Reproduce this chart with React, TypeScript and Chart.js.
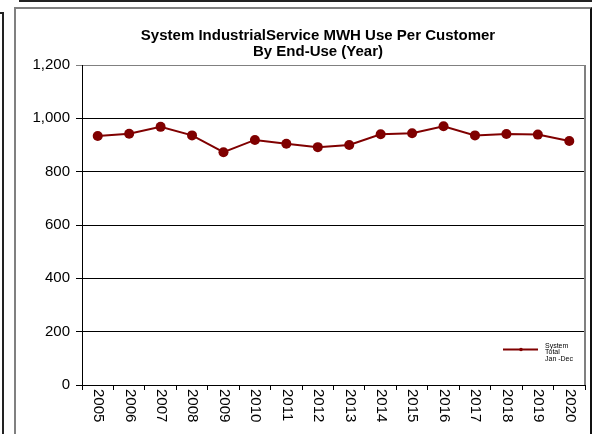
import React, { useEffect, useRef } from 'react';
import { Chart, registerables } from 'chart.js';

Chart.register(...registerables);

const categories = ['2005', '2006', '2007', '2008', '2009', '2010', '2011', '2012', '2013', '2014', '2015', '2016', '2017', '2018', '2019', '2020'];
const systemTotal = [934, 942, 968, 936, 873, 919, 905, 892, 900, 940, 944, 970, 936, 941, 939, 915];
const yTickValues = [0, 200, 400, 600, 800, 1000, 1200];
const titleLines = ['System IndustrialService MWH Use Per Customer', 'By End-Use (Year)'];
const legendLines = ['System', 'Total', 'Jan -Dec'];

const FONT = 'Arial, "Liberation Sans", sans-serif';
const LINE_COLOR = '#800000';

const decorPlugin = {
  id: 'decor',
  afterDraw(chart: any) {
    const ctx = chart.ctx as CanvasRenderingContext2D;
    const area = chart.chartArea;
    const xs = chart.scales.x;
    ctx.save();
    // plot area border (right) in grey
    ctx.strokeStyle = '#808080';
    ctx.lineWidth = 2;
    ctx.beginPath();
    ctx.moveTo(area.right, area.top);
    ctx.lineTo(area.right, area.bottom);
    ctx.stroke();

    // title
    ctx.fillStyle = '#000';
    ctx.font = `bold 15px ${FONT}`;
    ctx.textAlign = 'center';
    ctx.textBaseline = 'middle';
    titleLines.forEach((t, i) => ctx.fillText(t, 318, 35.5 + i * 16.5));

    // x labels rotated clockwise
    ctx.font = `15px ${FONT}`;
    ctx.textAlign = 'left';
    ctx.textBaseline = 'middle';
    categories.forEach((c, i) => {
      const x = xs.getPixelForValue(i);
      ctx.save();
      ctx.translate(x + 0.5, area.bottom + 4);
      ctx.rotate(Math.PI / 2);
      ctx.fillText(c, 0, 0);
      ctx.restore();
    });

    // legend
    const ly = 349.5;
    ctx.strokeStyle = LINE_COLOR;
    ctx.lineWidth = 2;
    ctx.beginPath();
    ctx.moveTo(503, ly);
    ctx.lineTo(538, ly);
    ctx.stroke();
    ctx.fillStyle = LINE_COLOR;
    ctx.beginPath();
    ctx.arc(521, ly, 1.8, 0, Math.PI * 2);
    ctx.fill();
    ctx.fillStyle = '#000';
    ctx.font = `7px ${FONT}`;
    ctx.textAlign = 'left';
    ctx.textBaseline = 'middle';
    legendLines.forEach((t, i) => ctx.fillText(t, 545, 346 + i * 6.5));
    ctx.restore();
  },
};

export default function App() {
  const ref = useRef<HTMLCanvasElement | null>(null);
  useEffect(() => {
    if (!ref.current) return;
    const chart = new Chart(ref.current, {
      type: 'line',
      data: {
        labels: categories,
        datasets: [
          {
            label: legendLines.join(' '),
            data: systemTotal,
            borderColor: LINE_COLOR,
            backgroundColor: LINE_COLOR,
            borderWidth: 2,
            pointRadius: 5,
            pointBackgroundColor: LINE_COLOR,
            pointBorderColor: LINE_COLOR,
            pointBorderWidth: 0,
            tension: 0,
          },
        ],
      },
      options: {
        responsive: false,
        animation: false,
        layout: { padding: { left: 0, right: 16, top: 65, bottom: 0 } },
        plugins: {
          legend: { display: false },
          title: { display: false },
          tooltip: { enabled: false },
        },
        scales: {
          x: {
            offset: true,
            grid: { offset: true, drawOnChartArea: false, drawTicks: true, tickLength: 5, color: '#000' },
            border: { color: '#000', width: 1 },
            ticks: { display: false },
            afterFit: (s: any) => {
              s.height = 49;
            },
          },
          y: {
            min: 0,
            max: 1200,
            afterBuildTicks: (s: any) => {
              s.ticks = yTickValues.map((v) => ({ value: v }));
            },
            ticks: {
              padding: 6,
              color: '#000',
              font: { family: FONT, size: 15 },
              callback: (v: any) => Number(v).toLocaleString('en-US'),
            },
            grid: {
              color: (c: any) => (c.tick && c.tick.value === 1200 ? '#808080' : '#000'),
              tickLength: 6,
            },
            border: { color: '#000', width: 1 },
            afterFit: (s: any) => {
              s.width = 82;
            },
          },
        },
      },
      plugins: [decorPlugin],
    });
    return () => chart.destroy();
  }, []);

  return (
    <div style={{ position: 'fixed', left: 0, top: 0, width: 601, height: 434, overflow: 'hidden', background: '#fff' }}>
      <div style={{ position: 'absolute', left: 19, top: -10, width: 573, height: 12, border: '2px solid #222', boxSizing: 'border-box' }} />
      <div style={{ position: 'absolute', left: -10, top: 12, width: 14, height: 500, border: '2px solid #222', boxSizing: 'border-box' }} />
      <div
        style={{
          position: 'absolute',
          left: 14,
          top: 7,
          width: 578,
          height: 500,
          borderTop: '2px solid #808080',
          borderLeft: '2px solid #808080',
          borderRight: '2px solid #111',
          boxSizing: 'border-box',
        }}
      />
      <canvas ref={ref} width={601} height={434} style={{ position: 'absolute', left: 0, top: 0, display: 'block' }} />
    </div>
  );
}
